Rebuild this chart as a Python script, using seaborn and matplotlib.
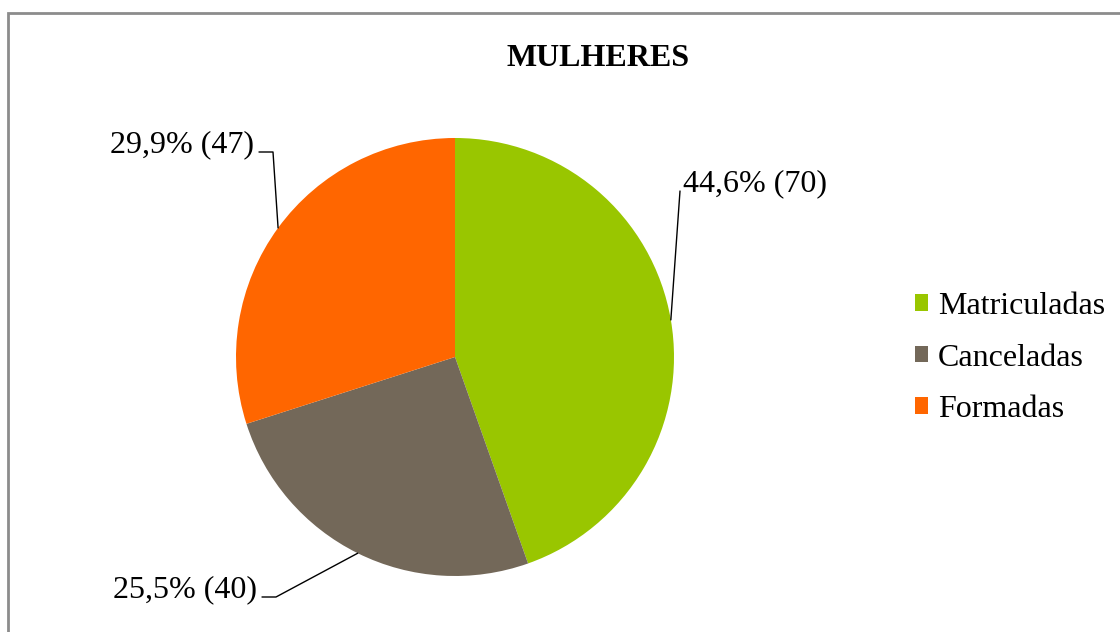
import numpy as np
import matplotlib
matplotlib.use("Agg")
import matplotlib.pyplot as plt
import seaborn as sns
from matplotlib.patches import Rectangle

sns.set_theme(style="white")
plt.rcParams["font.family"] = ["Liberation Serif", "DejaVu Serif"]

# dados
categorias = ["Matriculadas", "Canceladas", "Formadas"]
valores = [70, 40, 47]
cores = ["#99C600", "#736859", "#FF6600"]

W, H = 1120, 632
fig = plt.figure(figsize=(W / 100, H / 100), dpi=100)
ax = fig.add_axes([0, 0, 1, 1])

# centro e raio em pixels (y invertido)
cx, cy, r = 455, H - 357, 219
wedges, _ = ax.pie(valores, colors=cores, startangle=90, counterclock=False,
                   center=(cx, cy), radius=r, frame=True,
                   wedgeprops=dict(linewidth=0))
ax.set_xlim(0, W)
ax.set_ylim(0, H)
ax.set_aspect("equal")
ax.axis("off")

total = sum(valores)
rotulos = [f"{v / total * 100:.1f}".replace(".", ",") + f"% ({v})" for v in valores]

# posição do texto (x, y baseline, alinhamento) e cotovelo da linha
pos_texto = {
    "Matriculadas": (683, 191, "left", None),
    "Canceladas": (257, 597, "right", (262, 276)),
    "Formadas": (254, 152, "right", (259, 273)),
}

for w, cat, lab in zip(wedges, categorias, rotulos):
    ang = np.deg2rad((w.theta1 + w.theta2) / 2)
    ex, ey = cx + r * np.cos(ang), cy + r * np.sin(ang)
    tx, ty, ha, cot = pos_texto[cat]
    yy = H - ty
    if cot is None:
        ax.plot([ex, tx - 3], [ey, yy], color="black", lw=1)
    else:
        ax.plot([ex, cot[1], cot[0]], [ey, yy, yy], color="black", lw=1)
    ax.text(tx, yy, lab, ha=ha, va="baseline", fontsize=23, color="black")

ax.text(598, H - 58, "MULHERES", ha="center", va="center",
        fontsize=23, fontweight="bold", color="black")

# legenda
leg = ax.legend(wedges, categorias, loc="center left",
                bbox_to_anchor=(915 / W, 1 - 358 / H), frameon=False,
                fontsize=23, handlelength=0.42, handleheight=0.42,
                handletextpad=0.3, labelspacing=0.7, borderaxespad=0,
                borderpad=0)
for t in leg.get_texts():
    t.set_color("black")

# borda do gráfico
fig.patches.append(Rectangle((8 / W, -0.1), 1.2, (H - 12.5) / H + 0.1,
                             transform=fig.transFigure, fill=False,
                             edgecolor="#8c8c8c", linewidth=2))

fig.savefig("out.png", dpi=100, facecolor="white")
